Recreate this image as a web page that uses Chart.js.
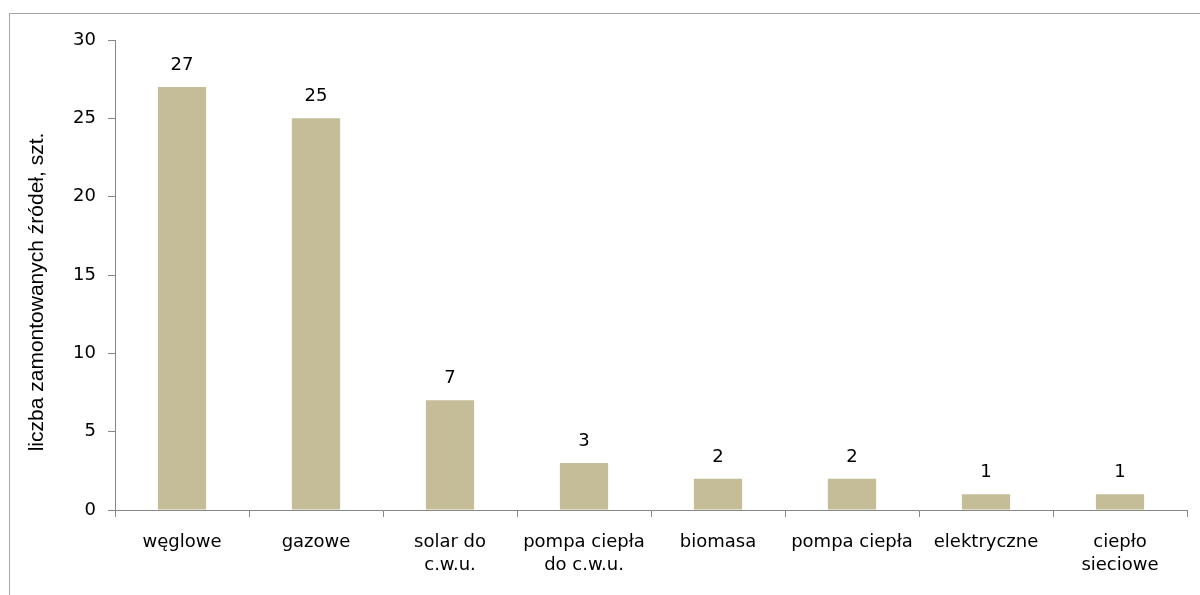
<!DOCTYPE html>
<html>
<head>
<meta charset="utf-8">
<script src="https://cdn.jsdelivr.net/npm/chart.js@4/dist/chart.umd.min.js"></script>
<style>
    html, body { margin: 0; padding: 0; background: #fff; overflow: hidden; }
    #wrap { position: relative; width: 1200px; height: 595px; }
    #frame {
        position: absolute; left: 9px; top: 13px;
        width: 1300px; height: 700px;
        border: 1px solid #a6a6a6;
        pointer-events: none;
    }
    canvas { position: absolute; left: 0; top: 0; }
</style>
</head>
<body>
<div id="wrap">
    <div id="frame"></div>
    <canvas id="sources" width="1200" height="595"></canvas>
</div>
<script>
const categories = [
    'węglowe',
    'gazowe',
    ['solar do', 'c.w.u.'],
    ['pompa ciepła', 'do c.w.u.'],
    'biomasa',
    'pompa ciepła',
    'elektryczne',
    ['ciepło', 'sieciowe'],
];
const counts = [27, 25, 7, 3, 2, 2, 1, 1];
const yTicks = [0, 5, 10, 15, 20, 25, 30];
const yTitle = 'liczba zamontowanych źródeł, szt.';

const FONT = 'DejaVu Sans';
const axisGray = '#868686';

// value above every bar, taken from the bar element itself
const barValues = {
    id: 'barValues',
    afterDatasetsDraw(chart) {
        const ctx = chart.ctx;
        const meta = chart.getDatasetMeta(0);
        ctx.save();
        ctx.font = '18px "' + FONT + '"';
        ctx.fillStyle = '#000';
        ctx.textAlign = 'center';
        ctx.textBaseline = 'alphabetic';
        meta.data.forEach((bar, i) => {
            ctx.fillText(String(counts[i]), bar.x, bar.y - 17);
        });
        ctx.restore();
    },
};

// rotated y title, sits a little below the middle of the plot
const sideTitle = {
    id: 'sideTitle',
    afterDraw(chart) {
        const ctx = chart.ctx;
        const area = chart.chartArea;
        ctx.save();
        ctx.translate(37, (area.top + area.bottom) / 2 + 17);
        ctx.rotate(-Math.PI / 2);
        ctx.font = '21px "Liberation Sans"';
        ctx.fillStyle = '#000';
        ctx.textAlign = 'center';
        ctx.textBaseline = 'middle';
        ctx.fillText(yTitle, 0, 0);
        ctx.restore();
    },
};

new Chart('sources', {
    type: 'bar',
    data: {
        labels: categories,
        datasets: [
            {
                data: counts,
                backgroundColor: '#c4bd97',
                borderWidth: 0,
                categoryPercentage: 1,
                barPercentage: 0.36,
            },
        ],
    },
    options: {
        responsive: false,
        animation: false,
        layout: { padding: { top: 40, right: 13, left: 0, bottom: 0 } },
        plugins: {
            legend: { display: false },
            tooltip: { enabled: false },
        },
        scales: {
            x: {
                grid: {
                    offset: true,
                    drawOnChartArea: false,
                    color: axisGray,
                    tickLength: 7,
                },
                border: { color: axisGray, width: 1 },
                ticks: {
                    color: '#000',
                    font: { family: FONT, size: 18, lineHeight: 1.28 },
                    maxRotation: 0,
                    autoSkip: false,
                    padding: 14,
                },
                afterFit: (s) => { s.height = 85; },
            },
            y: {
                min: 0,
                max: 30,
                afterBuildTicks: (s) => {
                    s.ticks = yTicks.map((v) => ({ value: v }));
                },
                grid: {
                    drawOnChartArea: false,
                    color: axisGray,
                    tickLength: 7,
                },
                border: { color: axisGray, width: 1 },
                ticks: {
                    color: '#000',
                    font: { family: FONT, size: 18 },
                    padding: 12,
                },
                afterFit: (s) => { s.width = 115; },
            },
        },
    },
    plugins: [barValues, sideTitle],
});
</script>
</body>
</html>
